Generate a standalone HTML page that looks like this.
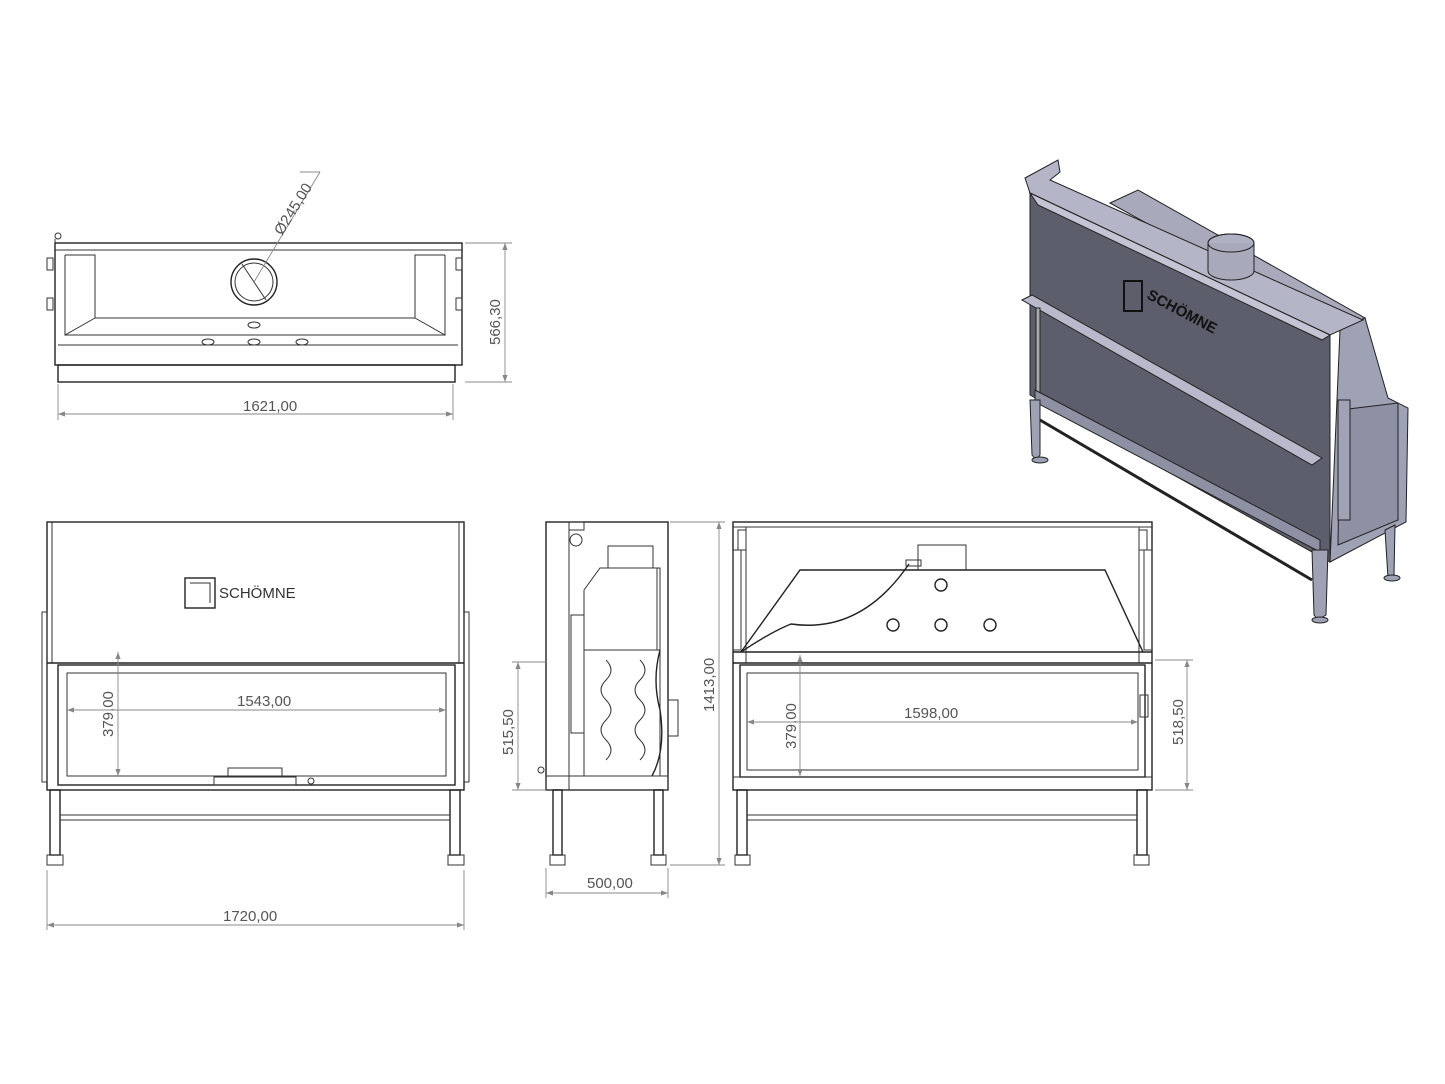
<!DOCTYPE html>
<html><head><meta charset="utf-8"><style>
html,body{margin:0;padding:0;background:#fff}
svg{display:block}
text{font-family:"Liberation Sans",sans-serif;fill:#555;font-size:15px}
.l{stroke:#222;stroke-width:1.4;fill:none}
.t{stroke:#333;stroke-width:1;fill:none}
.d{stroke:#888;stroke-width:0.9;fill:none}
</style></head><body>
<svg width="1445" height="1084" viewBox="0 0 1445 1084" xmlns="http://www.w3.org/2000/svg">
<defs><marker id="a" markerWidth="8" markerHeight="6" refX="8" refY="3" orient="auto-start-reverse"><path d="M0,0 L8,3 L0,6 z" fill="#888"/></marker></defs>

<!-- TOP VIEW -->
<g>
<rect x="55" y="243" width="407" height="122" class="l"/>
<rect x="58" y="365" width="397" height="17" class="l"/>
<line x1="55" y1="250" x2="462" y2="250" class="t"/>
<polyline points="65,255 95,255 95,318 415,318 415,255 445,255" class="t"/>
<polyline points="65,255 65,335 95,318" class="t"/>
<polyline points="445,255 445,335 415,318" class="t"/>
<line x1="65" y1="335" x2="445" y2="335" class="t"/>
<line x1="58" y1="345" x2="458" y2="345" class="t"/>
<circle cx="254" cy="282" r="23" class="l"/><circle cx="254" cy="282" r="19" class="t"/>
<line x1="242" y1="264" x2="266" y2="300" class="t"/>
<ellipse cx="208" cy="342" rx="6" ry="3" class="t"/><ellipse cx="254" cy="342" rx="6" ry="3" class="t"/><ellipse cx="302" cy="342" rx="6" ry="3" class="t"/><ellipse cx="254" cy="325" rx="6" ry="3" class="t"/>
<circle cx="58" cy="236" r="3" class="t"/><line x1="55" y1="239" x2="55" y2="243" class="t"/>
<rect x="47" y="258" width="6" height="12" class="t"/><rect x="47" y="298" width="6" height="12" class="t"/><rect x="456" y="258" width="6" height="12" class="t"/><rect x="456" y="298" width="6" height="12" class="t"/>
<line x1="254" y1="282" x2="320" y2="172" class="d"/><line x1="300" y1="172" x2="320" y2="172" class="d"/>
<text transform="translate(282,236) rotate(-58)" font-size="14">Ø245,00</text>
<line x1="465" y1="243" x2="512" y2="243" class="d"/><line x1="465" y1="382" x2="512" y2="382" class="d"/>
<line x1="505" y1="243" x2="505" y2="382" class="d" marker-start="url(#a)" marker-end="url(#a)"/>
<text transform="translate(500,345) rotate(-90)">566,30</text>
<line x1="58" y1="384" x2="58" y2="420" class="d"/><line x1="453" y1="384" x2="453" y2="420" class="d"/>
<line x1="58" y1="414" x2="453" y2="414" class="d" marker-start="url(#a)" marker-end="url(#a)"/>
<text x="243" y="411">1621,00</text>
</g>

<!-- FRONT VIEW -->
<g>
<rect x="47" y="522" width="417" height="268" class="l"/>
<line x1="52" y1="522" x2="52" y2="663" class="t"/><line x1="459" y1="522" x2="459" y2="663" class="t"/>
<rect x="42" y="612" width="5" height="170" class="t"/><rect x="464" y="612" width="5" height="170" class="t"/>
<line x1="47" y1="663" x2="464" y2="663" class="l"/>
<rect x="58" y="665" width="397" height="120" class="l"/>
<rect x="67" y="673" width="379" height="103" class="t"/>
<rect x="185" y="578" width="30" height="30" class="l"/><polyline points="190,583 210,583 210,603" class="t"/>
<text x="219" y="598" font-size="19" style="fill:#333">SCHÖMNE</text>
<rect x="214" y="777" width="82" height="8" class="t"/><rect x="228" y="768" width="54" height="9" class="t"/>
<circle cx="311" cy="781" r="3" class="t"/>
<rect x="50" y="790" width="10" height="65" class="l"/><rect x="450" y="790" width="10" height="65" class="l"/>
<line x1="60" y1="815" x2="450" y2="815" class="t"/><line x1="60" y1="820" x2="450" y2="820" class="t"/>
<rect x="47" y="855" width="16" height="10" class="t"/><rect x="448" y="855" width="16" height="10" class="t"/>
<line x1="118" y1="652" x2="118" y2="776" class="d" marker-start="url(#a)" marker-end="url(#a)"/>
<text transform="translate(113,737) rotate(-90)">379,00</text>
<line x1="67" y1="710" x2="446" y2="710" class="d" marker-start="url(#a)" marker-end="url(#a)"/>
<text x="237" y="706">1543,00</text>
<line x1="47" y1="870" x2="47" y2="930" class="d"/><line x1="464" y1="870" x2="464" y2="930" class="d"/>
<line x1="47" y1="925" x2="464" y2="925" class="d" marker-start="url(#a)" marker-end="url(#a)"/>
<text x="223" y="921">1720,00</text>
</g>

<!-- SIDE VIEW -->
<g>
<rect x="546" y="522" width="122" height="268" class="l"/>
<line x1="569" y1="522" x2="569" y2="790" class="t"/>
<rect x="569" y="522" width="15" height="8" class="t"/>
<circle cx="576" cy="540" r="6" class="t"/>
<rect x="608" y="546" width="45" height="22" class="t"/>
<polyline points="584,650 584,590 600,568 660,568 660,650" class="t"/>
<line x1="657" y1="568" x2="657" y2="650" class="t"/>
<rect x="571" y="615" width="13" height="118" class="t"/>
<rect x="584" y="650" width="76" height="126" class="t"/>
<path d="M606,660 q10,10 0,20 q-10,10 0,20 q10,10 0,20 q-10,10 0,20 q10,10 0,20" class="t"/>
<path d="M640,660 q10,10 0,20 q-10,10 0,20 q10,10 0,20 q-10,10 0,20 q10,10 0,20" class="t"/>
<path d="M660,650 q-8,30 0,60 q6,40 -8,66" class="l"/>
<rect x="668" y="700" width="10" height="36" class="t"/>
<rect x="546" y="776" width="122" height="14" class="t"/>
<rect x="553" y="790" width="9" height="65" class="l"/><rect x="654" y="790" width="9" height="65" class="l"/>
<rect x="550" y="855" width="15" height="10" class="t"/><rect x="651" y="855" width="15" height="10" class="t"/>
<circle cx="541" cy="770" r="3" class="t"/>
<line x1="512" y1="662" x2="546" y2="662" class="d"/><line x1="512" y1="790" x2="546" y2="790" class="d"/>
<line x1="518" y1="662" x2="518" y2="790" class="d" marker-start="url(#a)" marker-end="url(#a)"/>
<text transform="translate(513,755) rotate(-90)">515,50</text>
<line x1="670" y1="522" x2="725" y2="522" class="d"/><line x1="670" y1="865" x2="725" y2="865" class="d"/>
<line x1="719" y1="522" x2="719" y2="865" class="d" marker-start="url(#a)" marker-end="url(#a)"/>
<text transform="translate(714,712) rotate(-90)">1413,00</text>
<line x1="546" y1="868" x2="546" y2="898" class="d"/><line x1="668" y1="868" x2="668" y2="898" class="d"/>
<line x1="546" y1="893" x2="668" y2="893" class="d" marker-start="url(#a)" marker-end="url(#a)"/>
<text x="587" y="888">500,00</text>
</g>

<!-- BACK VIEW -->
<g>
<rect x="733" y="522" width="419" height="268" class="l"/>
<line x1="733" y1="527" x2="1152" y2="527" class="t"/>
<line x1="746" y1="527" x2="746" y2="663" class="t"/><line x1="1139" y1="527" x2="1139" y2="663" class="t"/>
<rect x="733" y="550" width="8" height="100" class="t"/><rect x="1144" y="550" width="8" height="100" class="t"/>
<rect x="738" y="530" width="8" height="20" class="t"/><rect x="1139" y="530" width="8" height="20" class="t"/>
<rect x="918" y="545" width="48" height="25" class="t"/>
<polyline points="741,652 800,570 1105,570 1143,652" class="l"/>
<path d="M741,652 q30,-20 50,-28 q70,10 118,-60" class="l" stroke-width="2"/>
<rect x="906" y="560" width="15" height="6" class="t"/>
<circle cx="941" cy="585" r="6" class="l"/><circle cx="893" cy="625" r="6" class="l"/><circle cx="941" cy="625" r="6" class="l"/><circle cx="990" cy="625" r="6" class="l"/>
<line x1="733" y1="652" x2="1152" y2="652" class="l"/><line x1="733" y1="663" x2="1152" y2="663" class="l"/>
<rect x="740" y="665" width="405" height="112" class="l"/>
<rect x="747" y="673" width="391" height="97" class="t"/>
<rect x="1140" y="695" width="8" height="22" class="t"/>
<line x1="733" y1="777" x2="1152" y2="777" class="t"/>
<rect x="737" y="790" width="10" height="65" class="l"/><rect x="1137" y="790" width="10" height="65" class="l"/>
<line x1="747" y1="815" x2="1137" y2="815" class="t"/><line x1="747" y1="820" x2="1137" y2="820" class="t"/>
<rect x="735" y="855" width="15" height="10" class="t"/><rect x="1134" y="855" width="15" height="10" class="t"/>
<line x1="800" y1="655" x2="800" y2="776" class="d" marker-start="url(#a)" marker-end="url(#a)"/>
<text transform="translate(796,749) rotate(-90)">379,00</text>
<line x1="747" y1="722" x2="1138" y2="722" class="d" marker-start="url(#a)" marker-end="url(#a)"/>
<text x="904" y="718">1598,00</text>
<line x1="1155" y1="660" x2="1193" y2="660" class="d"/><line x1="1155" y1="790" x2="1193" y2="790" class="d"/>
<line x1="1187" y1="660" x2="1187" y2="790" class="d" marker-start="url(#a)" marker-end="url(#a)"/>
<text transform="translate(1183,745) rotate(-90)">518,50</text>
</g>

<!-- ISO VIEW -->
<g stroke="#222" stroke-width="1">
<polygon points="1110,203 1138,190 1365,318 1340,330" fill="#a8aabb"/>
<polygon points="1340,330 1365,318 1388,398 1408,408 1406,522 1330,562" fill="#9fa1b4"/>
<polygon points="1025,178 1058,160 1060,172 1050,180 1363,320 1330,335 1030,193" fill="#b4b6c8"/>
<polygon points="1030,193 1330,335 1330,562 1030,395" fill="#5d5e6c"/>
<polygon points="1030,193 1330,335 1322,340 1038,205" fill="#c3c5d4"/>
<polygon points="1022,300 1032,295 1322,458 1312,465" fill="#b8bacb"/>
<rect x="1036" y="308" width="4" height="90" fill="#aaa"/>
<polygon points="1340,410 1398,403 1398,520 1338,545" fill="#8e90a4"/>
<polygon points="1035,390 1320,540 1320,552 1035,402" fill="#8e90a4"/>
<ellipse cx="1231" cy="243" rx="23" ry="9" fill="#b0b2c4"/>
<path d="M1208,243 v28 a23,9 0 0 0 46,0 v-28" fill="#a8aabc"/>
<ellipse cx="1231" cy="243" rx="23" ry="9" fill="none"/>
<rect x="1124" y="281" width="18" height="30" fill="none" stroke="#111" stroke-width="2"/>
<polygon points="1030,400 1040,400 1040,455 1036,460 1032,455" fill="#9fa1b4"/>
<polygon points="1312,550 1328,550 1326,615 1318,620 1314,615" fill="#9fa1b4"/>
<polygon points="1385,530 1395,525 1394,575 1388,578" fill="#9fa1b4"/>
<line x1="1040" y1="420" x2="1312" y2="580" stroke-width="3"/>
<ellipse cx="1040" cy="460" rx="8" ry="3" fill="#9fa1b4"/><ellipse cx="1320" cy="620" rx="8" ry="3" fill="#9fa1b4"/><ellipse cx="1392" cy="578" rx="8" ry="3" fill="#9fa1b4"/>
<rect x="1338" y="400" width="12" height="120" fill="#a0a2b5"/>
</g>
<text transform="translate(1146,298) rotate(28)" font-size="15" font-weight="bold" style="fill:#111">SCHÖMNE</text>
</svg>
</body></html>
